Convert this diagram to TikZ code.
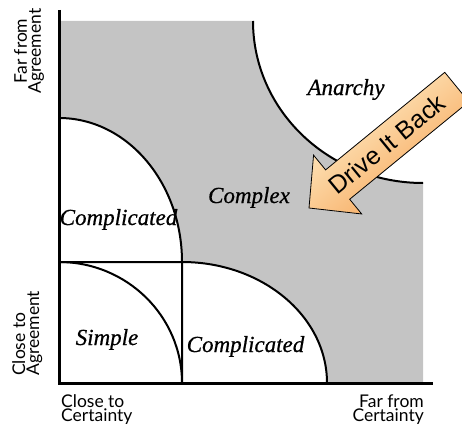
\documentclass[tikz,border=0pt]{standalone}
\usepackage{fontspec}
\setmainfont{Liberation Serif}
\newfontfamily\zonefont{Liberation Serif}[ItalicFeatures={FakeBold=0.6}]
\newfontfamily\axisfont{Lato}
\newfontfamily\arrowfont{Liberation Sans}
\usetikzlibrary{calc}
\definecolor{zonegray}{RGB}{196,196,196}
\definecolor{arrowlight}{RGB}{255,244,210}
\definecolor{arrowdark}{RGB}{246,160,80}
\tikzset{
  zone/.style={font=\zonefont\itshape\fontsize{23}{23}\selectfont, inner sep=0pt, anchor=base},
  axislabel/.style={font=\axisfont\fontsize{17.5}{14}\selectfont, inner sep=0pt},
  axisline/.style={line width=3pt},
  border/.style={line width=2pt},
}
\begin{document}
\begin{tikzpicture}[x=1pt,y=1pt]
\useasboundingbox (0,0) rectangle (462,424);
\clip (0,0) rectangle (462,424);

% shaded "complex" zone between the quarter ellipses
\fill[zonegray] (59,306) -- (59,403) -- (253,403)
  arc[start angle=180, end angle=270, x radius=170, y radius=162]
  -- (423,41) -- (327,41)
  arc[start angle=0, end angle=90, x radius=145, y radius=121]
  arc[start angle=0, end angle=90, x radius=123, y radius=144]
  -- cycle;

% zone borders
\draw[border] (253,403) arc[start angle=180, end angle=270, x radius=170, y radius=162];
\draw[border] (59,306) arc[start angle=90, end angle=0, x radius=123, y radius=144] -- (182,41);
\draw[border] (59,162) -- (182,162) arc[start angle=90, end angle=0, x radius=145, y radius=121];
\draw[border] (59,162) arc[start angle=90, end angle=0, x radius=123, y radius=121];

% axes
\draw[axisline] (59,414) -- (59,41) -- (433,41);

% block arrow
\coordinate (tip) at (309,216);
\shade[draw=black, line width=0.8pt, top color=arrowlight, bottom color=arrowdark, shading angle=39.3]
  (tip) -- ($(tip)+(39.3:37)+(129.3:38)$) -- ($(tip)+(39.3:37)+(129.3:19)$)
  -- ($(tip)+(39.3:191)+(129.3:19)$) -- ($(tip)+(39.3:191)+(129.3:-19)$)
  -- ($(tip)+(39.3:37)+(129.3:-19)$) -- ($(tip)+(39.3:37)+(129.3:-38)$) -- cycle;
\node[rotate=39.3, font=\arrowfont\fontsize{25}{25}\selectfont, inner sep=0pt] (drive)
  at ($(tip)+(39.3:101)$) {Drive It Back};

% zone names
\node[zone] (anarchy) at (346,329) {Anarchy};
\node[zone] (complex) at (249,221) {Complex};
\node[zone] (complA) at (118.5,199) {Complicated};
\node[zone] (simple) at (107,79) {Simple};
\node[zone] (complB) at (245.5,72) {Complicated};

% axis labels
\node[axislabel, align=left, anchor=north west] (closeC) at (61,29.5) {Close to\\Certainty};
\node[axislabel, align=right, anchor=north east] (farC) at (424,29.5) {Far from\\Certainty};
\node[axislabel, align=center, anchor=north, rotate=90] (farA) at (14,373) {Far from\\Agreement};
\node[axislabel, align=left, anchor=north west, rotate=90] (closeA) at (12,48) {Close to\\Agreement};
\end{tikzpicture}
\end{document}
